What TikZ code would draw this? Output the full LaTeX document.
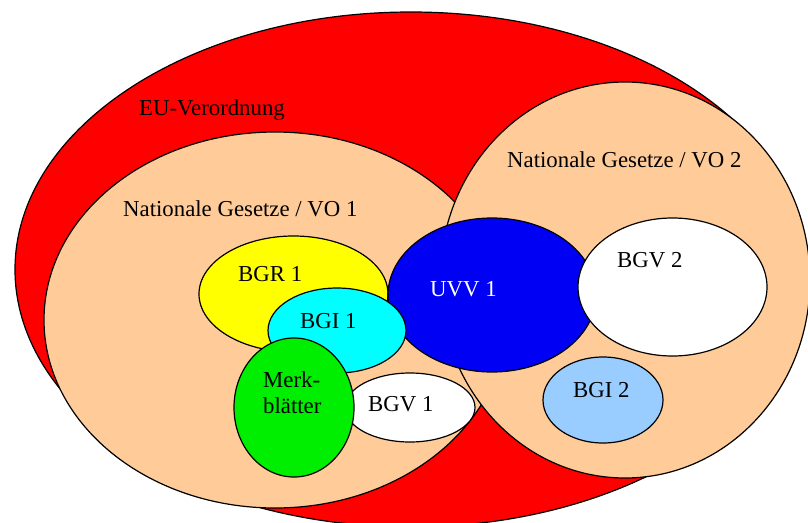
\documentclass[tikz,border=0pt]{standalone}
\usepackage{fontspec}
\setmainfont{Liberation Serif}
\newfontfamily\labelfont{Liberation Serif}
\usetikzlibrary{shapes.geometric}
\definecolor{eured}{HTML}{FF0000}
\definecolor{peach}{HTML}{FFCC99}
\definecolor{bgryellow}{HTML}{FFFF00}
\definecolor{bgicyan}{HTML}{00FFFF}
\definecolor{uvvblue}{HTML}{0000F5}
\definecolor{merkgreen}{HTML}{00EE00}
\definecolor{bgilight}{HTML}{99CCFF}
\begin{document}
\begin{tikzpicture}[x=1pt,y=-1pt,
  blob/.style={ellipse, draw=black, line width=1.2pt, inner sep=0pt, outer sep=0pt},
  lbl/.style={anchor=base west, inner sep=0pt, font=\labelfont\fontsize{22.8}{26}\selectfont}]
\useasboundingbox (0,0) rectangle (808,522);

% regulation levels, outermost first
\node[blob, fill=eured, minimum width=792pt, minimum height=515pt] (eu) at (411,269.5) {};
\node[blob, fill=peach, minimum width=462pt, minimum height=376pt] (nat1) at (275,320) {};
\node[blob, fill=peach, minimum width=370pt, minimum height=396pt] (nat2) at (625,280) {};

% rules and information sheets
\node[blob, fill=bgryellow, minimum width=189pt, minimum height=116pt] (bgr1) at (293.5,294) {};
\node[blob, fill=uvvblue, minimum width=208pt, minimum height=154pt] (uvv1) at (492,295) {};
\node[blob, fill=bgicyan, minimum width=138pt, minimum height=85pt] (bgi1) at (337,330.5) {};
\node[blob, fill=white, minimum width=130pt, minimum height=69pt] (bgv1) at (410,407.5) {};
\node[blob, fill=merkgreen, minimum width=120pt, minimum height=139pt] (merk) at (294,407.5) {};
\node[blob, fill=white, minimum width=189pt, minimum height=138pt] (bgv2) at (672.5,287) {};
\node[blob, fill=bgilight, minimum width=120pt, minimum height=86pt] (bgi2) at (603,400) {};

% labels
\node[lbl] (euText) at (139,115) {EU-Verordnung};
\node[lbl] (nat1Text) at (123,216) {Nationale Gesetze / VO 1};
\node[lbl] (nat2Text) at (507,167) {Nationale Gesetze / VO 2};
\node[lbl] (bgr1Text) at (238,281) {BGR 1};
\node[lbl] (bgi1Text) at (300,328) {BGI 1};
\node[lbl, text=white] (uvv1Text) at (430,296) {UVV 1};
\node[lbl] (merkText) at (263,387) {Merk-};
\node[lbl] (blaetterText) at (263,413) {blätter};
\node[lbl] (bgv1Text) at (368,411) {BGV 1};
\node[lbl] (bgv2Text) at (617,267) {BGV 2};
\node[lbl] (bgi2Text) at (573,397) {BGI 2};
\end{tikzpicture}
\end{document}
